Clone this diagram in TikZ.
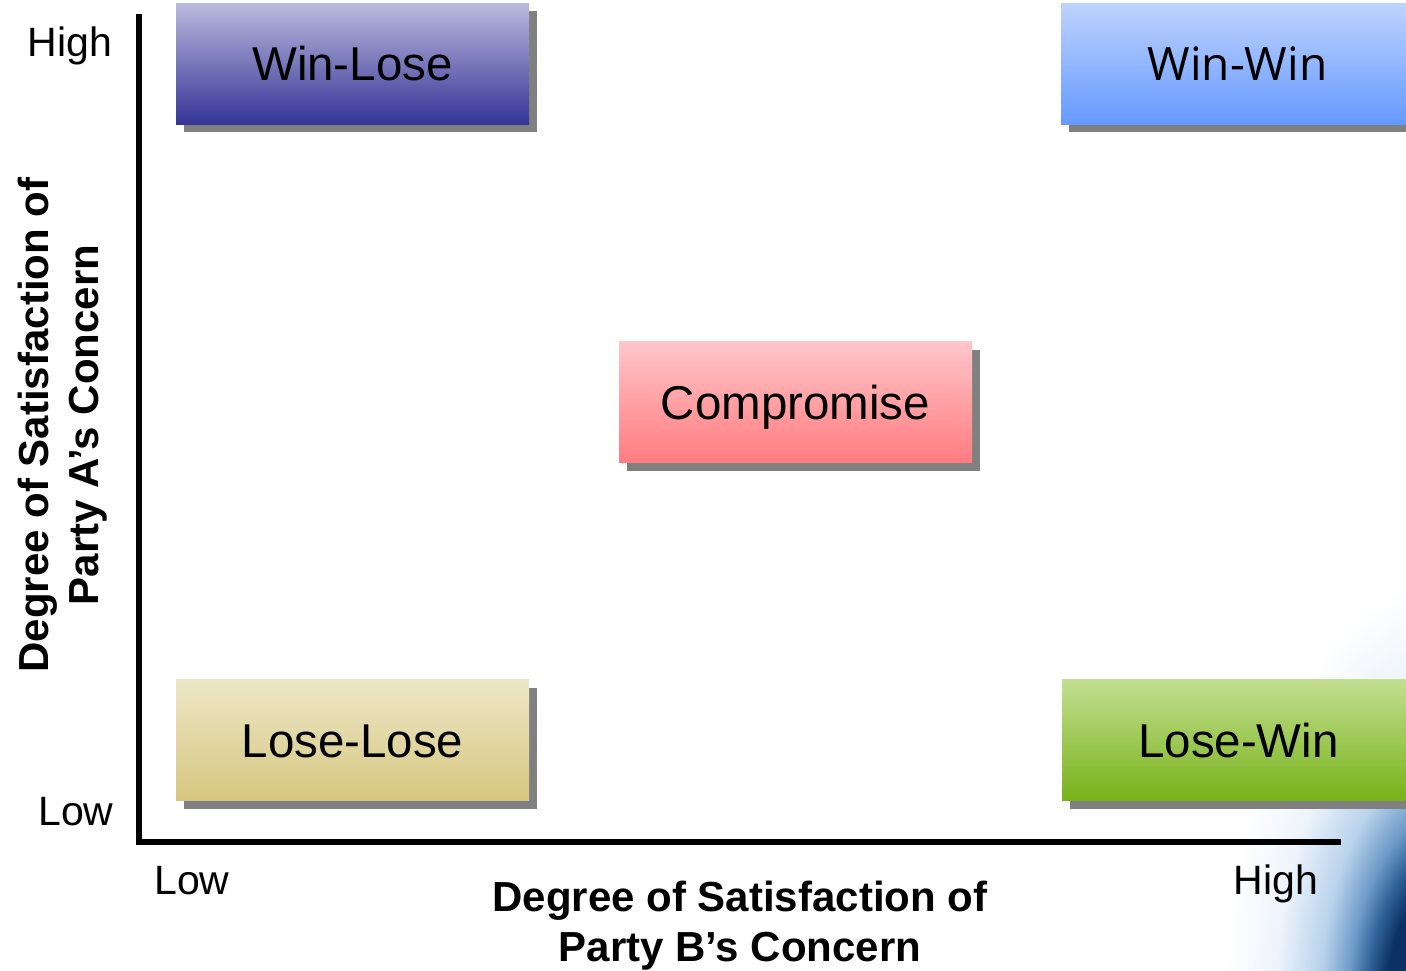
\documentclass[tikz,border=0pt]{standalone}
\usepackage{fontspec}
\setmainfont{Liberation Sans}
\newfontfamily\wwfont{Open Sans}
\usetikzlibrary{shadows}

% corner glow colours
\definecolor{glowA}{RGB}{12,50,100}
\definecolor{glowB}{RGB}{45,95,150}
\definecolor{glowC}{RGB}{110,155,200}
\definecolor{glowD}{RGB}{185,210,235}
\definecolor{glowE}{RGB}{238,244,251}
\pgfdeclareradialshading{cornerglow}{\pgfpointorigin}{%
  color(0bp)=(glowA); color(75bp)=(glowA); color(92bp)=(glowB);
  color(112bp)=(glowC); color(140bp)=(glowD); color(185bp)=(glowE);
  color(235bp)=(white); color(260bp)=(white)}

% box colours
\definecolor{wlTop}{RGB}{186,186,222}
\definecolor{wlBot}{RGB}{54,52,150}
\definecolor{wwTop}{RGB}{190,211,255}
\definecolor{wwBot}{RGB}{102,153,255}
\definecolor{cpTop}{RGB}{255,198,202}
\definecolor{cpBot}{RGB}{255,124,128}
\definecolor{llTop}{RGB}{237,231,199}
\definecolor{llBot}{RGB}{214,199,128}
\definecolor{lwTop}{RGB}{195,223,145}
\definecolor{lwBot}{RGB}{120,178,26}
\definecolor{shadowgray}{RGB}{128,128,128}

\tikzset{
  quad/.style={shade, minimum width=353pt, minimum height=121pt, inner sep=0pt,
    font=\fontsize{47.5}{57}\selectfont, text height=34pt, text depth=0pt,
    drop shadow={shadow xshift=8pt, shadow yshift=-8pt, fill=shadowgray, opacity=1}},
  tick/.style={font=\fontsize{41}{49}\selectfont, anchor=base, inner sep=0pt},
  axislabel/.style={font=\bfseries\fontsize{42}{50}\selectfont, align=center, inner sep=0pt},
  axisline/.style={line width=6pt}
}

\begin{document}
\begin{tikzpicture}[x=1pt, y=-1pt]
\useasboundingbox (0,0) rectangle (1406,970);
\clip (0,0) rectangle (1406,970);

% soft blue glow in the lower right corner
\begin{scope}[shift={(1460,1010)}, yscale=1.85]
  \node[inner sep=0pt, transform shape] (glow) {\pgfuseshading{cornerglow}};
\end{scope}

% axes
\coordinate (ytop) at (139,14);
\coordinate (origin) at (139,842);
\coordinate (xend) at (1341,842);
\draw[axisline] (ytop) -- (origin) -- (xend);

% outcome boxes
\node[quad, top color=wlTop, bottom color=wlBot] (winlose) at (352.5,63.5) {Win-Lose};
\node[quad, top color=wwTop, bottom color=wwBot, font=\wwfont\fontsize{46}{55}\selectfont] (winwin) at (1237.5,63.5) {Win-Win};
\node[quad, top color=cpTop, bottom color=cpBot] (compromise) at (795.5,402) {Compromise};
\node[quad, top color=llTop, bottom color=llBot] (loselose) at (352.5,740) {Lose-Lose};
\node[quad, top color=lwTop, bottom color=lwBot] (losewin) at (1238.5,740) {Lose-Win};

% scale labels
\node[tick] (yhigh) at (70,56) {High};
\node[tick] (ylow) at (76,825) {Low};
\node[tick] (xlow) at (192,894) {Low};
\node[tick] (xhigh) at (1276,894) {High};

% axis titles
\node[axislabel] (xtitle) at (740,926) {Degree of Satisfaction of\\Party B’s Concern};
\node[axislabel, rotate=90] (ytitle) at (63,425) {Degree of Satisfaction of\\Party A’s Concern};
\end{tikzpicture}
\end{document}
